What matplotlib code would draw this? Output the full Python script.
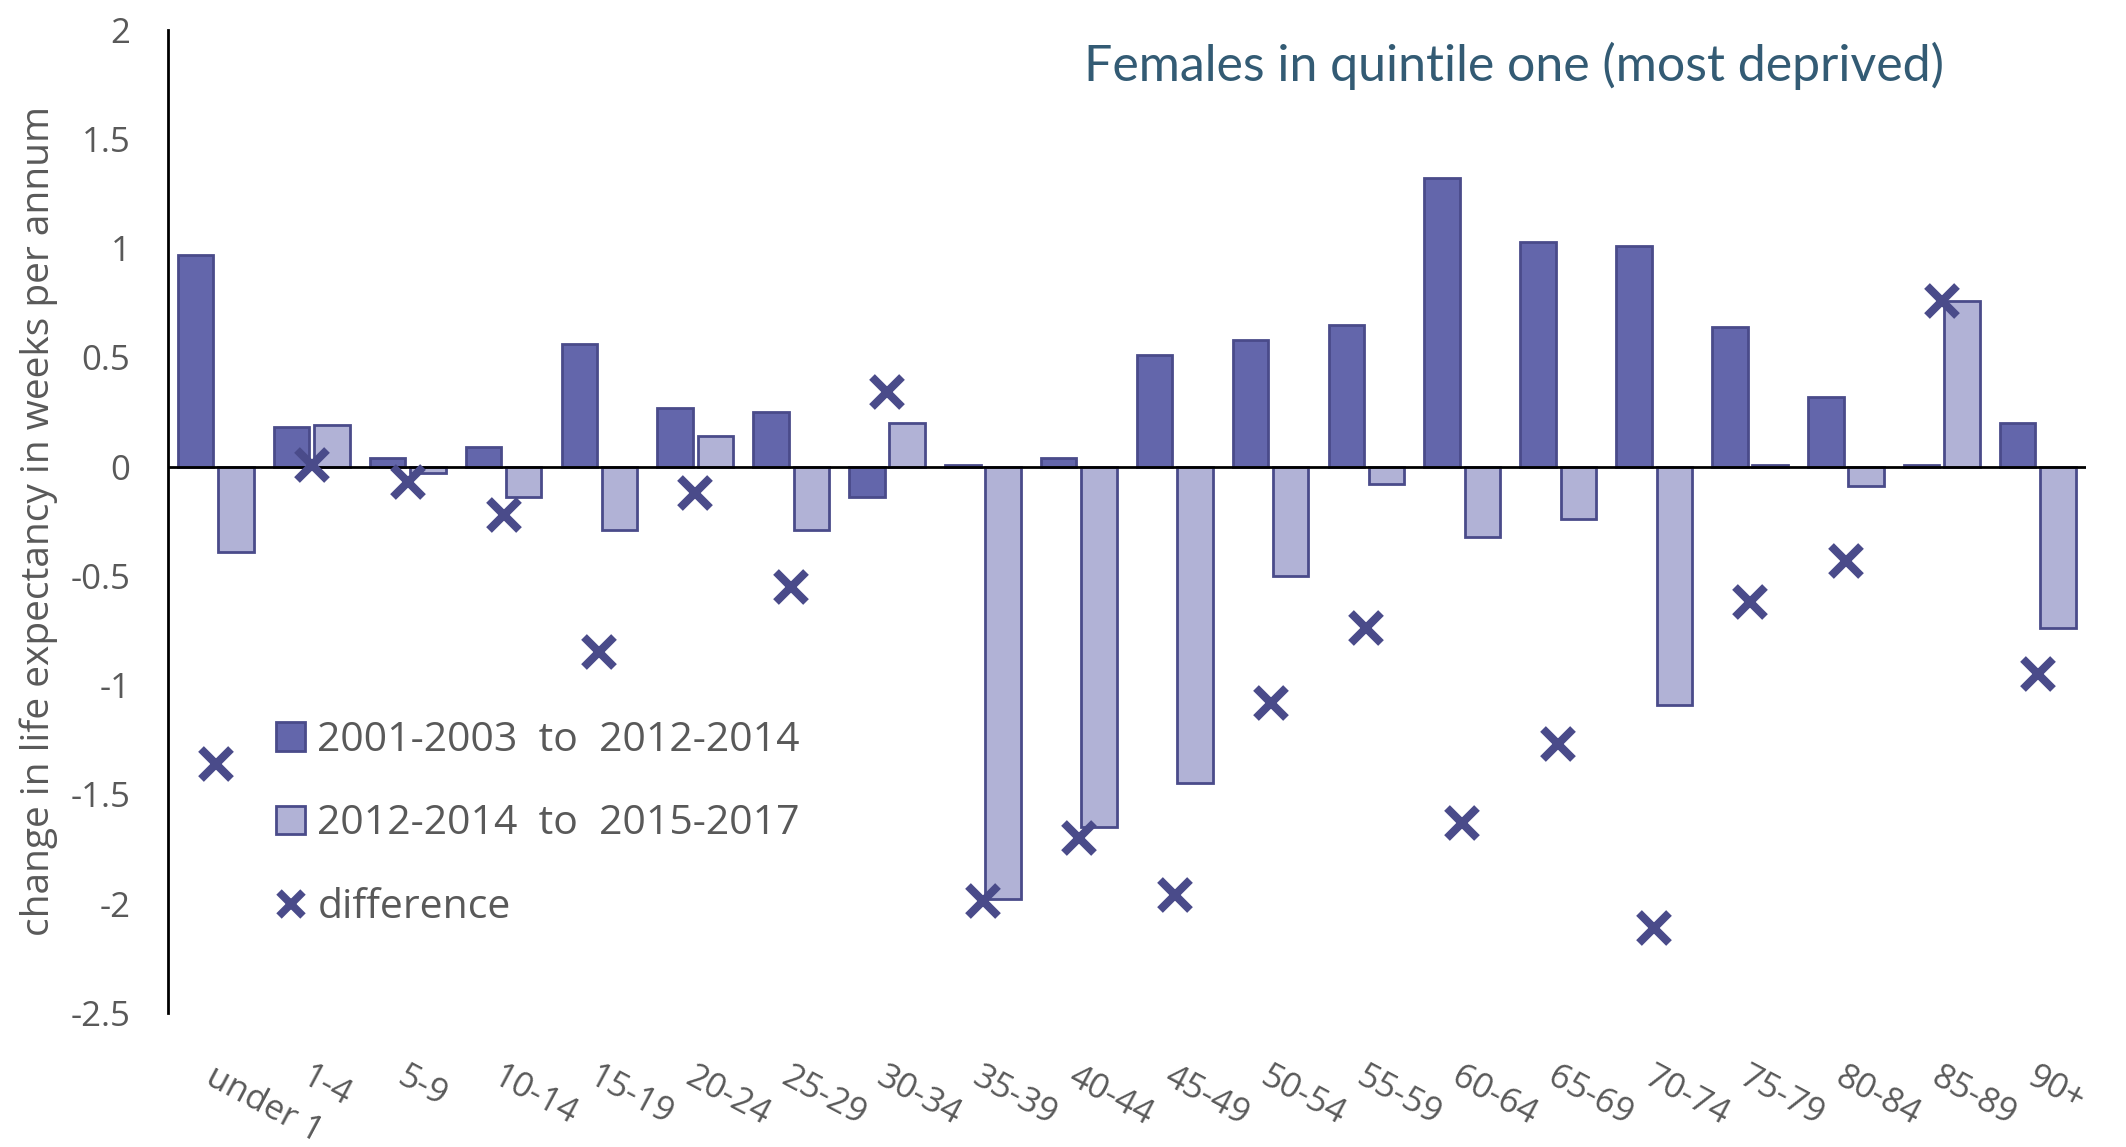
import matplotlib
matplotlib.use("Agg")
import matplotlib.pyplot as plt
import numpy as np
from matplotlib.patches import Patch
from matplotlib.lines import Line2D

# ---- data ----
age_groups = ["under 1", "1-4", "5-9", "10-14", "15-19", "20-24", "25-29", "30-34",
              "35-39", "40-44", "45-49", "50-54", "55-59", "60-64", "65-69", "70-74",
              "75-79", "80-84", "85-89", "90+"]
change_2001_2012 = [0.97, 0.18, 0.04, 0.09, 0.56, 0.27, 0.25, -0.14, 0.01, 0.04,
                    0.51, 0.58, 0.65, 1.32, 1.03, 1.01, 0.64, 0.32, 0.01, 0.20]
change_2012_2015 = [-0.39, 0.19, -0.03, -0.14, -0.29, 0.14, -0.29, 0.20, -1.98, -1.65,
                    -1.45, -0.50, -0.08, -0.32, -0.24, -1.09, 0.01, -0.09, 0.76, -0.74]
difference = [-1.36, 0.01, -0.07, -0.22, -0.85, -0.12, -0.55, 0.34, -1.99, -1.70,
              -1.96, -1.08, -0.74, -1.63, -1.27, -2.11, -0.62, -0.43, 0.76, -0.95]
y_ticks = [2, 1.5, 1, 0.5, 0, -0.5, -1, -1.5, -2, -2.5]
y_tick_labels = ["2", "1.5", "1", "0.5", "0", "-0.5", "-1", "-1.5", "-2", "-2.5"]
legend_labels = ["2001-2003  to  2012-2014", "2012-2014  to  2015-2017", "difference"]
title_text = "Females in quintile one (most deprived)"
ylabel_text = "change in life expectancy in weeks per annum"

# ---- style ----
dark_fill = "#6366AB"
light_fill = "#B1B2D6"
edge = "#4A4B8A"
text_gray = "#595959"
title_color = "#335B74"
font_main = ["Open Sans", "DejaVu Sans"]

fig = plt.figure(figsize=(21.26, 11.47), dpi=100)
ax = fig.add_axes([0.079, 0.117, 0.902, 0.857])

x = np.arange(len(age_groups))
w = 0.37
ax.bar(x - 0.21, change_2001_2012, width=w, color=dark_fill, edgecolor=edge, linewidth=2, zorder=2)
ax.bar(x + 0.21, change_2012_2015, width=w, color=light_fill, edgecolor=edge, linewidth=2, zorder=2)
ax.plot(x, difference, linestyle="none", marker="x", markersize=21, markeredgewidth=5.8,
        color=edge, zorder=4)

ax.axhline(0, color="black", linewidth=2, zorder=3)

ax.set_xlim(-0.5, len(age_groups) - 0.5)
ax.set_ylim(-2.5, 2)
for s in ["top", "right", "bottom"]:
    ax.spines[s].set_visible(False)
ax.spines["left"].set_linewidth(2)
ax.spines["left"].set_color("black")

ax.set_yticks(y_ticks)
ax.set_yticklabels(y_tick_labels, fontsize=25, color=text_gray, family=font_main)
ax.tick_params(axis="y", length=0, pad=27)

ax.set_xticks(x)
ax.set_xticklabels(age_groups, fontsize=25, color=text_gray, family=font_main,
                   rotation=-28, ha="left", va="top", rotation_mode="anchor")
ax.tick_params(axis="x", length=0, pad=34)

ax.set_ylabel(ylabel_text, fontsize=28, color=text_gray, family=font_main, labelpad=9)

fig.text(0.510, 0.929, title_text, fontsize=36, color=title_color,
         family=["Lato", "DejaVu Sans"], ha="left", va="baseline")

handles = [Patch(facecolor=dark_fill, edgecolor=edge, linewidth=2),
           Patch(facecolor=light_fill, edgecolor=edge, linewidth=2),
           Line2D([], [], linestyle="none", marker="x", markersize=17, markeredgewidth=5.5, color=edge)]
leg = fig.legend(handles, legend_labels, loc="upper left", bbox_to_anchor=(0.130, 0.372),
                 frameon=False, prop={"family": font_main, "size": 29.5},
                 handlelength=0.7, handleheight=0.7, handletextpad=0.3,
                 labelspacing=1.05, borderpad=0, borderaxespad=0)
for t in leg.get_texts():
    t.set_color(text_gray)

fig.savefig("out.png", dpi=100)
